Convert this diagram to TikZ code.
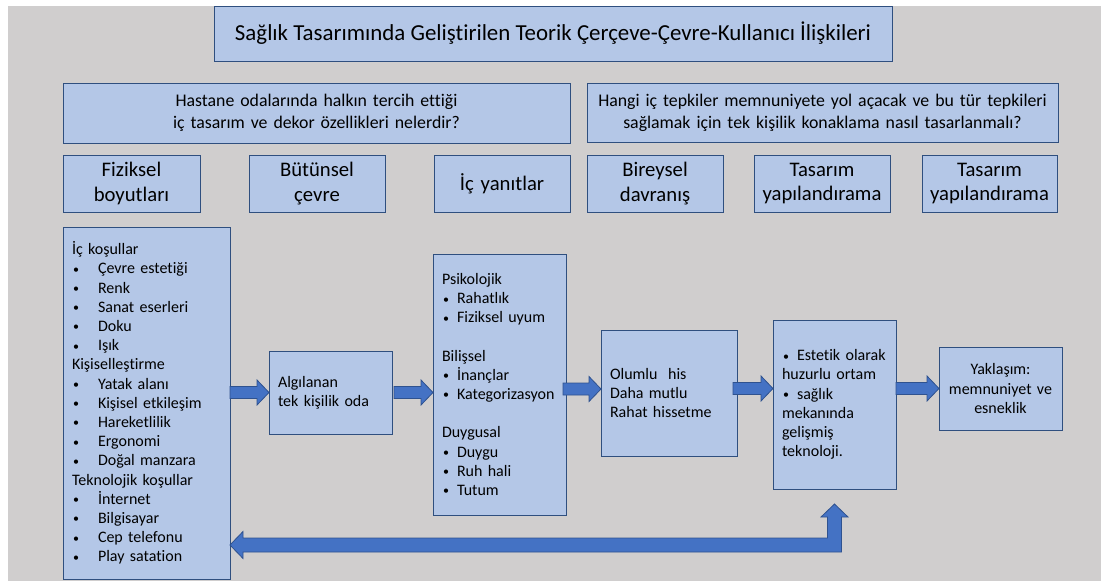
\documentclass[tikz,border=0pt]{standalone}
\usepackage{fontspec}
\setmainfont{Carlito}[Ligatures=NoCommon]
\usetikzlibrary{calc}
\definecolor{bg}{HTML}{D0CECE}
\definecolor{boxfill}{HTML}{B4C7E7}
\definecolor{boxline}{HTML}{2F4F7F}
\definecolor{arrfill}{HTML}{4472C4}
\definecolor{arrline}{HTML}{2F528F}
\newcommand\smbul{\raisebox{0.6pt}{\fontsize{12}{12}\selectfont •}}
\newcommand\bi[1]{\mbox{\makebox[26pt][l]{\hspace{1pt}\smbul}#1}}
\newcommand\bp[1]{\mbox{\makebox[15pt][l]{\hspace{1pt}\smbul}#1}}
\newcommand\harrow[2]{%
  \filldraw[arrowst] let \p1=#1, \p2=#2 in
    (\x1,\y2+6pt) -- (\x2-12pt,\y2+6pt) -- (\x2-12pt,\y2+12.5pt) -- (\x2,\y2)
    -- (\x2-12pt,\y2-12.5pt) -- (\x2-12pt,\y2-6pt) -- (\x1,\y2-6pt) -- cycle;}
\begin{document}
\begin{tikzpicture}[x=1pt,y=-1pt,
  box/.style={draw=boxline,fill=boxfill,line width=0.9pt,anchor=north west,inner sep=0pt,outer sep=0pt},
  headbox/.style={box,minimum height=57pt,align=center,font=\fontsize{20.7}{24.4}\selectfont},
  qbox/.style={box,align=center,font=\fontsize{17.8}{22}\selectfont},
  bodybox/.style={box,align=left,inner xsep=9pt,font=\fontsize{16}{19.2}\selectfont},
  arrowst/.style={fill=arrfill,draw=arrline,line width=0.8pt,line join=miter}]
\useasboundingbox (0,0) rectangle (1101,581);
\fill[bg] (8,6) rectangle (1101,581);

% title and questions
\node[box,minimum width=678pt,minimum height=55pt,font=\fontsize{22.9}{26}\selectfont] (title) at (214,6)
  {Sağlık Tasarımında Geliştirilen Teorik Çerçeve-Çevre-Kullanıcı İlişkileri};
\node[qbox,minimum width=507pt,minimum height=60pt,text width=495pt] (q1) at (63,83)
  {Hastane odalarında halkın tercih ettiği\\iç tasarım ve dekor özellikleri nelerdir?};
\node[qbox,minimum width=471pt,minimum height=59pt,text width=465pt] (q2) at (587,83)
  {\mbox{Hangi iç tepkiler memnuniyete yol açacak ve bu tür tepkileri}\\\mbox{sağlamak için tek kişilik konaklama nasıl tasarlanmalı?}};

% header row
\node[headbox,minimum width=137pt,text width=130pt] (h1) at (63,155) {Fiziksel\\boyutları};
\node[headbox,minimum width=136pt,text width=130pt] (h2) at (249,155) {Bütünsel\\çevre};
\node[headbox,minimum width=136pt,text width=130pt] (h3) at (434,155) {İç yanıtlar};
\node[headbox,minimum width=136pt,text width=130pt] (h4) at (587,155) {Bireysel\\davranış};
\node[headbox,minimum width=136pt,text width=130pt] (h5) at (754,155) {Tasarım\\yapılandırama};
\node[headbox,minimum width=135pt,text width=130pt] (h6) at (922,155) {Tasarım\\yapılandırama};

% main row
\node[bodybox,minimum width=167pt,minimum height=352pt,text width=149pt] (L) at (63,227)
  {İç koşullar\\
   \bi{Çevre estetiği}\\
   \bi{Renk}\\
   \bi{Sanat eserleri}\\
   \bi{Doku}\\
   \bi{Işık}\\
   Kişiselleştirme\\
   \bi{Yatak alanı}\\
   \bi{Kişisel etkileşim}\\
   \bi{Hareketlilik}\\
   \bi{Ergonomi}\\
   \bi{Doğal manzara}\\
   \mbox{Teknolojik koşullar}\\
   \bi{İnternet}\\
   \bi{Bilgisayar}\\
   \bi{Cep telefonu}\\
   \bi{Play satation}};
\node[bodybox,minimum width=123pt,minimum height=83pt,text width=105pt] (A) at (269,351)
  {Algılanan\\tek kişilik oda};
\node[bodybox,minimum width=133pt,minimum height=261pt,text width=115pt] (P) at (433,254)
  {Psikolojik\\
   \bp{Rahatlık}\\
   \bp{Fiziksel uyum}\\
   \mbox{}\\
   Bilişsel\\
   \bp{İnançlar}\\
   \bp{Kategorizasyon}\\
   \mbox{}\\
   Duygusal\\
   \bp{Duygu}\\
   \bp{Ruh hali}\\
   \bp{Tutum}};
\node[bodybox,minimum width=136pt,minimum height=126pt,text width=118pt] (O) at (601,330)
  {Olumlu~ his\\Daha mutlu\\Rahat hissetme};
\node[bodybox,minimum width=123pt,minimum height=169pt,text width=105pt] (E) at (773,320)
  {\bp{Estetik olarak}\\
   \mbox{huzurlu ortam}\\
   \bp{sağlık}\\
   mekanında\\
   gelişmiş\\
   teknoloji.};
\node[bodybox,align=center,minimum width=123pt,minimum height=83pt,text width=110pt,inner xsep=6.5pt] (Y) at (939,347)
  {Yaklaşım:\\memnuniyet ve\\esneklik};

% block arrows
\coordinate (o3) at ([yshift=4pt]O.west);
\coordinate (o4) at ([yshift=4.5pt]O.east);
\harrow{(L.east |- A.west)}{(A.west)}
\harrow{([xshift=2pt]A.east)}{(P.west |- A.east)}
\harrow{([xshift=-3pt]P.east |- o3)}{(o3)}
\harrow{([xshift=-4pt]o4)}{(E.west |- o4)}
\harrow{(E.east |- Y.west)}{(Y.west)}

% return arrow
\coordinate (rl) at (L.east |- 0,545);
\coordinate (ru) at ([yshift=-15pt]E.south);
\filldraw[arrowst] let \p1=(rl), \p2=(ru) in
  (\x1,\y1) -- (\x1+13pt,\y1+13.5pt) -- (\x1+13pt,\y1+7pt) -- (\x2-7pt,\y1+7pt)
  -- (\x2-7pt,\y2-13pt) -- (\x2-13.5pt,\y2-13pt) -- (\x2,\y2) -- (\x2+13.5pt,\y2-13pt)
  -- (\x2+7pt,\y2-13pt) -- (\x2+7pt,\y1-7pt) -- (\x1+13pt,\y1-7pt) -- (\x1+13pt,\y1-13.5pt) -- cycle;
\end{tikzpicture}
\end{document}
